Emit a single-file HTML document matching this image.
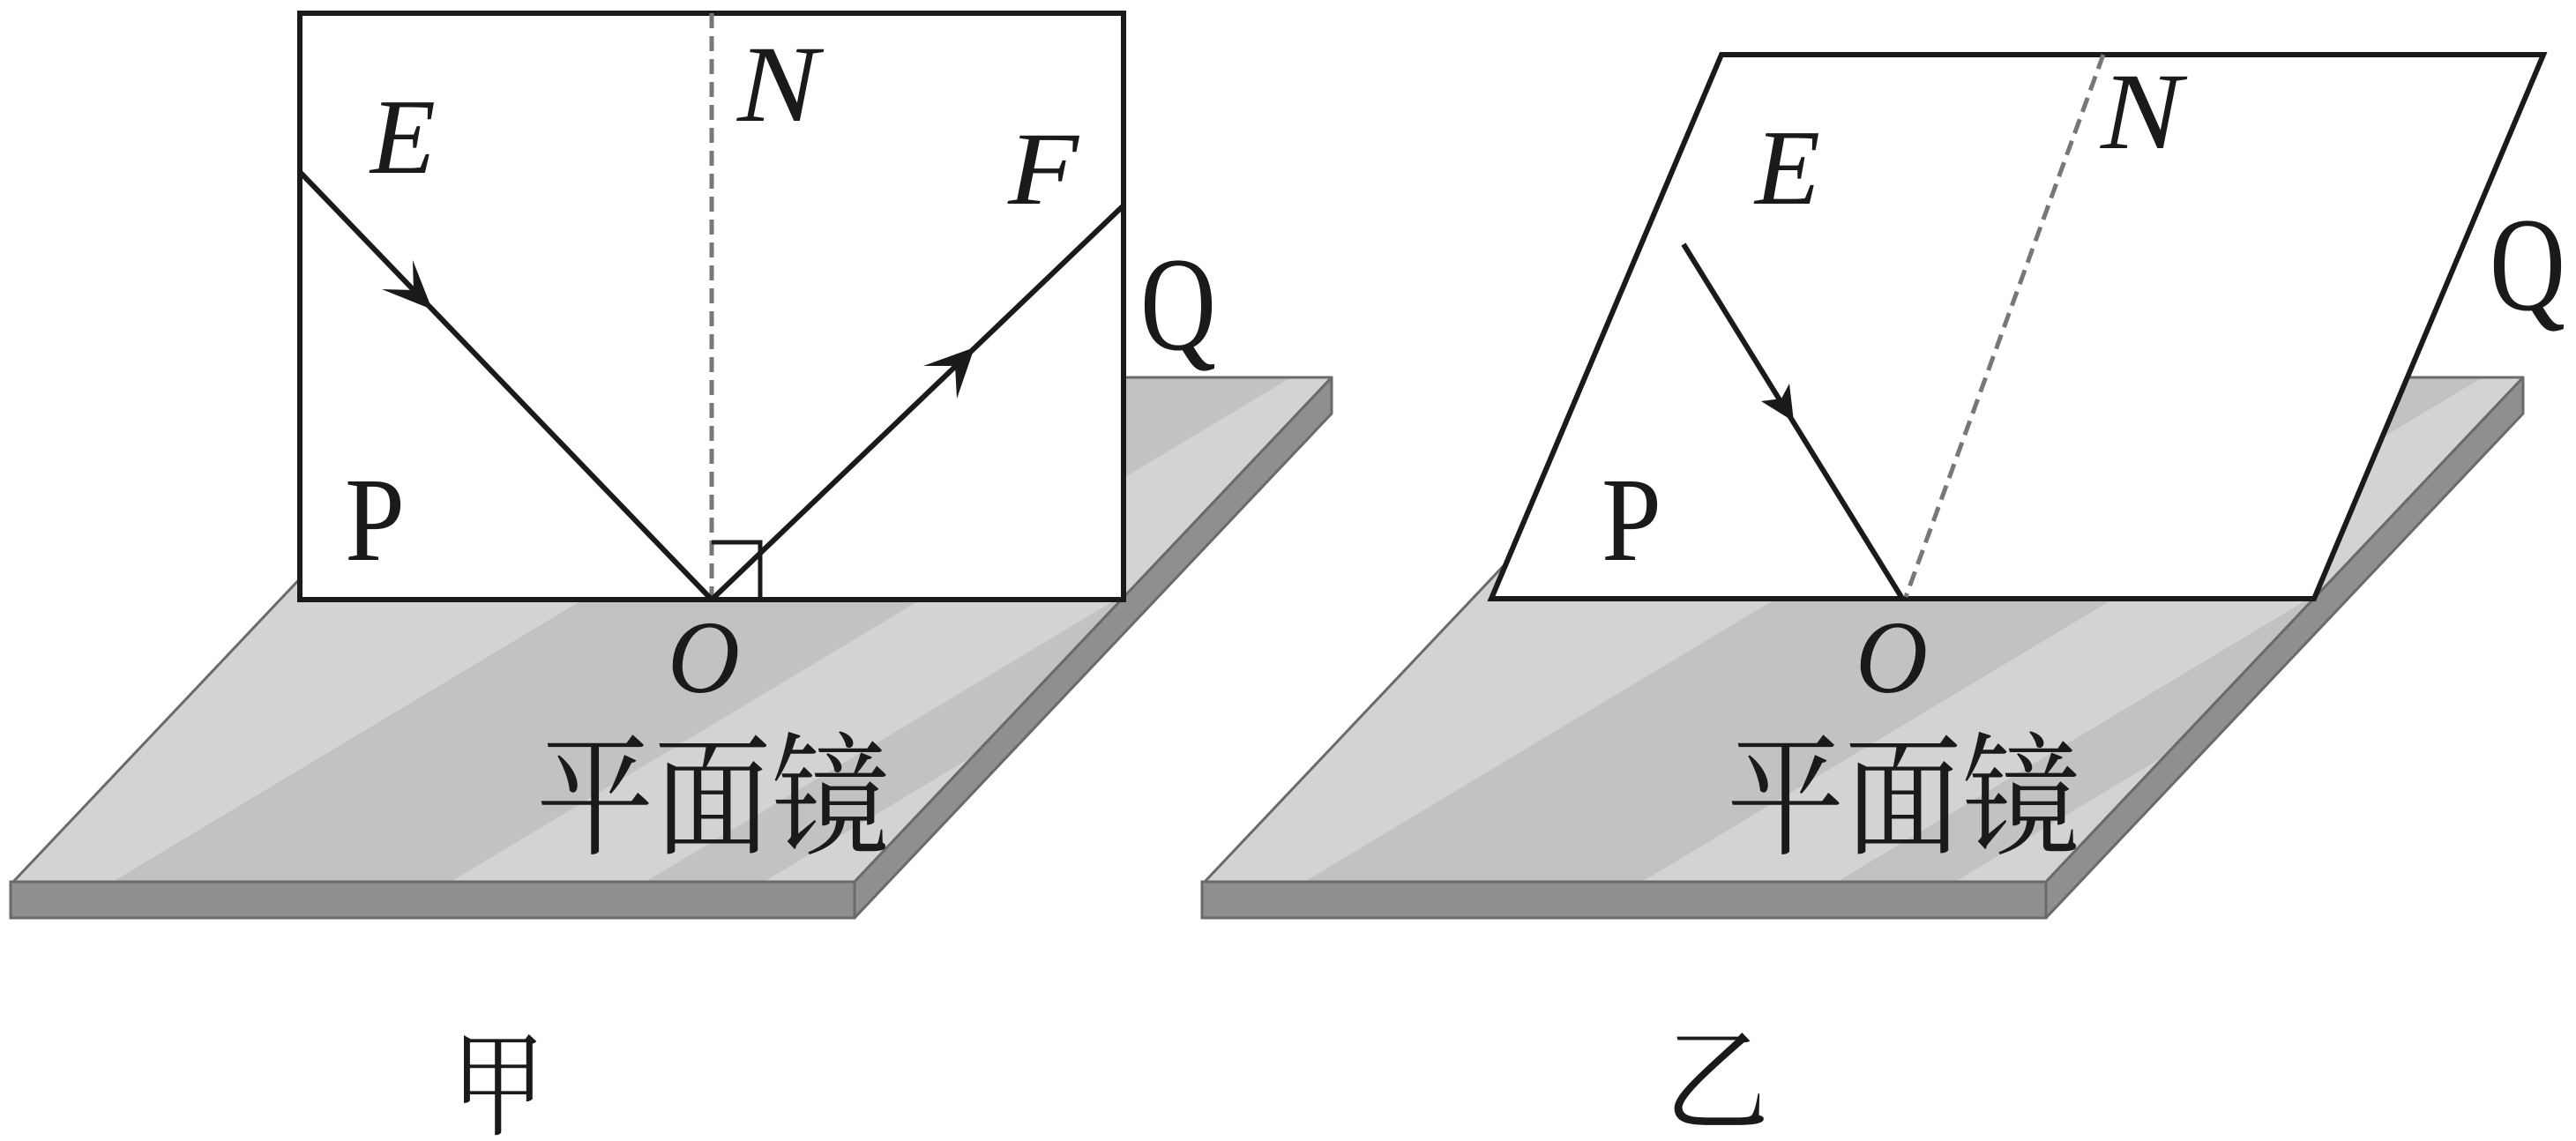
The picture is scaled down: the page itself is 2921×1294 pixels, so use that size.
<!DOCTYPE html>
<html><head><meta charset="utf-8"><style>
html,body{margin:0;padding:0;background:#fff;}
svg{display:block;}
</style></head><body>
<svg width="2921" height="1294" viewBox="0 0 2921 1294" xmlns="http://www.w3.org/2000/svg">
<defs>
<clipPath id="top"><polygon points="15,1000 969,1000 1510,428 556,428"/></clipPath>
<g id="mirror">
  <polygon points="15,1000 969,1000 1510,428 556,428" fill="#d3d3d3"/>
  <g clip-path="url(#top)" fill="#c2c2c2">
    <polygon points="128,1000 511,1000 1464,428 1081,428"/>
    <polygon points="732,1000 866,1000 1819,428 1685,428"/>
  </g>
  <polygon points="15,1000 969,1000 1510,428 556,428" fill="none" stroke="#6a6a6a" stroke-width="3" stroke-linejoin="round"/>
  <polygon points="12,1000 969,1000 969,1041 12,1041" fill="#8f8f8f" stroke="#6a6a6a" stroke-width="3"/>
  <polygon points="969,1000 1510,428 1510,469 969,1041" fill="#8f8f8f" stroke="#6a6a6a" stroke-width="3" stroke-linejoin="round"/>
</g>
</defs>

<!-- left figure -->
<use href="#mirror"/>
<rect x="340" y="15" width="934" height="665" fill="#fff" stroke="#1a1a1a" stroke-width="6"/>
<line x1="807" y1="15" x2="807" y2="680" stroke="#777" stroke-width="5" stroke-dasharray="17 9"/>
<polyline points="807,615 862,615 862,680" fill="none" stroke="#1a1a1a" stroke-width="5"/>
<line x1="341" y1="196" x2="807" y2="680" stroke="#1a1a1a" stroke-width="6"/>
<line x1="807" y1="680" x2="1274" y2="233" stroke="#1a1a1a" stroke-width="6"/>
<polygon points="490,351 433,328 469,329 468,295" fill="#1a1a1a"/>
<polygon points="1105,394 1047,415 1083,415 1085,452" fill="#1a1a1a"/>

<g font-family="'Liberation Serif', serif" fill="#1a1a1a">
<text x="420" y="196" font-size="122" font-style="italic" textLength="74" lengthAdjust="spacingAndGlyphs">E</text>
<text x="836" y="137" font-size="124" font-style="italic" textLength="92" lengthAdjust="spacingAndGlyphs">N</text>
<text x="1143" y="231" font-size="118" font-style="italic" textLength="80" lengthAdjust="spacingAndGlyphs">F</text>
<text x="1293" y="396" font-size="152" textLength="86" lengthAdjust="spacingAndGlyphs">Q</text>
<text x="391" y="635" font-size="136" textLength="68" lengthAdjust="spacingAndGlyphs">P</text>
<text x="757" y="785" font-size="118" font-style="italic" textLength="82" lengthAdjust="spacingAndGlyphs">O</text>
</g>
<g font-family="'Liberation Serif','Noto Serif CJK SC',serif" fill="#1a1a1a">
<text x="608" y="957" font-size="150" textLength="400" lengthAdjust="spacingAndGlyphs">平面镜</text>
<text x="512" y="1277" font-size="130" textLength="106" lengthAdjust="spacingAndGlyphs">甲</text>
</g>

<!-- right figure -->
<use href="#mirror" transform="translate(1351,0)"/>
<polygon points="1952,62 2884,62 2624,679 1691,679" fill="#fff" stroke="#1a1a1a" stroke-width="6" stroke-linejoin="miter"/>
<line x1="2385" y1="62" x2="2161" y2="677" stroke="#777" stroke-width="5" stroke-dasharray="17 9"/>
<line x1="1909" y1="277" x2="2156" y2="677" stroke="#1a1a1a" stroke-width="6"/>
<polygon points="2034,478 1997,455 2020,452 2029,435" fill="#1a1a1a"/>

<g font-family="'Liberation Serif', serif" fill="#1a1a1a">
<text x="1990" y="231" font-size="122" font-style="italic" textLength="74" lengthAdjust="spacingAndGlyphs">E</text>
<text x="2382" y="168" font-size="124" font-style="italic" textLength="92" lengthAdjust="spacingAndGlyphs">N</text>
<text x="2823" y="351" font-size="152" textLength="86" lengthAdjust="spacingAndGlyphs">Q</text>
<text x="1816" y="635" font-size="136" textLength="68" lengthAdjust="spacingAndGlyphs">P</text>
<text x="2104" y="785" font-size="118" font-style="italic" textLength="82" lengthAdjust="spacingAndGlyphs">O</text>
</g>
<g font-family="'Liberation Serif','Noto Serif CJK SC',serif" fill="#1a1a1a">
<text x="1958" y="957" font-size="150" textLength="400" lengthAdjust="spacingAndGlyphs">平面镜</text>
<text x="1888" y="1272" font-size="130" textLength="118" lengthAdjust="spacingAndGlyphs">乙</text>
</g>
</svg>
</body></html>
